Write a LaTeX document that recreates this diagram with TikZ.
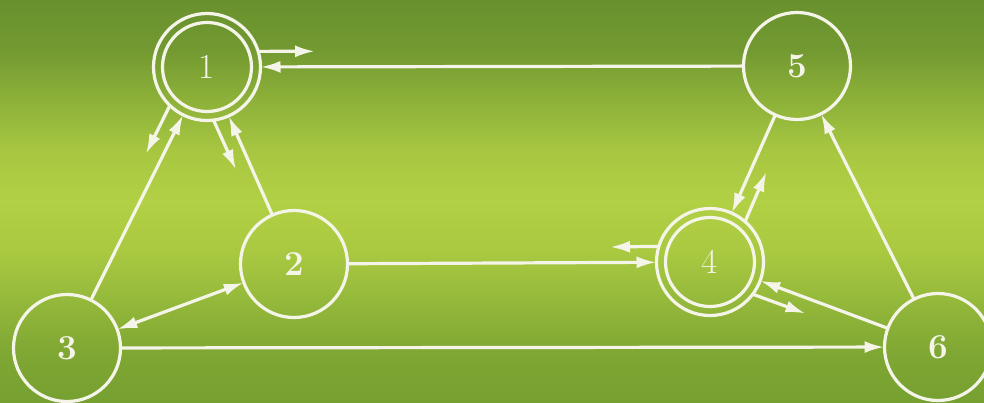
\documentclass[tikz,border=0pt]{standalone}
\usetikzlibrary{arrows.meta,calc}
\definecolor{cT}{RGB}{104,145,46}
\definecolor{cT1}{RGB}{115,154,49}
\definecolor{cT2}{RGB}{141,177,57}
\definecolor{cT3}{RGB}{167,199,65}
\definecolor{cM}{RGB}{178,208,68}
\definecolor{cB3}{RGB}{169,201,65}
\definecolor{cB2}{RGB}{148,184,58}
\definecolor{cB1}{RGB}{127,167,51}
\definecolor{cB}{RGB}{118,160,48}
\definecolor{ln}{RGB}{244,244,232}
\pgfdeclareverticalshading{bgshade}{100bp}{color(0bp)=(cB); color(25bp)=(cB); color(31.25bp)=(cB1); color(37.5bp)=(cB2); color(43.75bp)=(cB3); color(50bp)=(cM); color(56.25bp)=(cT3); color(62.5bp)=(cT2); color(68.75bp)=(cT1); color(75bp)=(cT); color(100bp)=(cT)}
\begin{document}
\begin{tikzpicture}[x=1pt,y=-1pt,
  st/.style={circle,draw=ln,line width=3.2pt,minimum size=107pt,inner sep=0pt,outer sep=0pt,text=ln,font=\fontsize{35}{40}\selectfont},
  bst/.style={st,font=\fontsize{35}{40}\selectfont\bfseries},
  inner/.style={draw=ln,line width=3.2pt},
  edge/.style={draw=ln,line width=3.2pt,-{Latex[length=20pt,width=12pt]}},
  both/.style={draw=ln,line width=3.2pt,{Latex[length=20pt,width=12pt]}-{Latex[length=20pt,width=12pt]}}
]
\useasboundingbox (0,0) rectangle (984,402);
\shade[shading=bgshade] (0,0) rectangle (984,402);

\node[st]  (n1) at (207,67)  {1};
\node[bst] (n2) at (294,264) {2};
\node[bst] (n3) at (67,348)  {3};
\node[st]  (n4) at (710,262) {4};
\node[bst] (n5) at (797,66)  {5};
\node[bst] (n6) at (938,347) {6};
\draw[inner] (n1.center) circle[radius=44.5pt];
\draw[inner] (n4.center) circle[radius=44.5pt];

% main edges
\draw[edge] (n5) -- (n1);
\draw[edge] (n3) -- (n1);
\draw[edge] (n2) -- (n1);
\draw[both] (n3) -- (n2);
\draw[edge] (n2) -- (n4);
\draw[edge] (n5) -- (n4);
\draw[edge] (n6) -- (n5);
\draw[edge] (n6) -- (n4);
\draw[edge] (n3) -- (n6);

% short outgoing arrows
\coordinate (s1) at (315,51.3);
\coordinate (s2) at (145.8,154.1);
\coordinate (s3) at (236,169.7);
\coordinate (s4) at (610,247);
\coordinate (s5) at (766.5,171.7);
\coordinate (s6) at (805.5,313.5);
\draw[edge] (n1.17.1) -- (s1);
\draw[edge] (n1.226.7) -- (s2);
\draw[edge] (n1.277.6) -- (s3);
\draw[edge] (n4.163.7) -- (s4);
\draw[edge] (n4.49.8) -- (s5);
\draw[edge] (n4.323.3) -- (s6);
\end{tikzpicture}
\end{document}
